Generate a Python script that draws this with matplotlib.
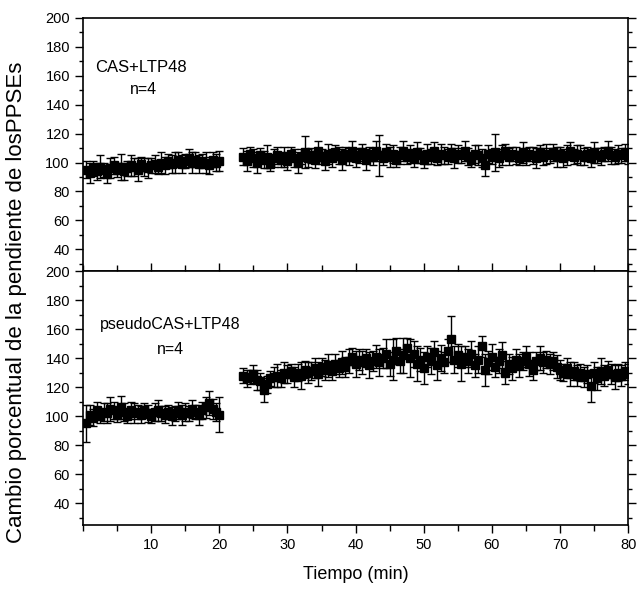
import numpy as np
import matplotlib
matplotlib.use('Agg')
import matplotlib.pyplot as plt
from matplotlib.ticker import MultipleLocator

plt.rcParams['font.family'] = ['Liberation Sans', 'DejaVu Sans']

# sampling times (min): baseline then post-induction
t_base = np.arange(0.5, 20.01, 0.5)
t_post = np.arange(23.5, 80.01, 0.5)

# CAS+LTP48
cas_base = [95, 93, 96, 94, 97, 95, 92, 96, 98, 95, 97, 94, 96, 98, 97, 95, 99, 97, 96, 98,
            99, 97, 100, 98, 101, 99, 100, 102, 99, 101, 103, 100, 102, 99, 101, 100, 98, 102, 100, 101]
cas_base_err = [6, 7, 5, 6, 8, 5, 6, 7, 6, 5, 9, 6, 5, 7, 6, 8, 5, 6, 7, 5,
                6, 5, 7, 6, 5, 6, 7, 5, 6, 5, 6, 7, 5, 6, 5, 7, 6, 5, 6, 7]
cas_post = [104, 101, 106, 103, 100, 105, 102, 104, 99, 103,
            105, 102, 104, 101, 106, 103, 100, 104, 107, 103,
            105, 102, 108, 104, 101, 106, 103, 107, 105, 102,
            106, 104, 108, 103, 105, 107, 102, 106, 104, 108,
            105, 103, 107, 104, 106, 102, 105, 108, 104, 106,
            103, 107, 105, 102, 106, 104, 108, 103, 106, 105,
            104, 107, 103, 106, 105, 108, 104, 102, 106, 105,
            103, 98, 106, 104, 107, 103, 105, 108, 104, 106,
            105, 103, 107, 104, 106, 105, 103, 107, 104, 106,
            105, 107, 104, 106, 103, 105, 108, 104, 106, 105,
            104, 106, 103, 107, 105, 104, 106, 108, 105, 104,
            106, 105, 107, 104]
cas_post_err = [6, 7, 5, 6, 7, 5, 6, 8, 5, 6,
                6, 5, 7, 6, 5, 6, 7, 5, 11, 6,
                5, 6, 7, 5, 6, 7, 6, 5, 6, 7,
                5, 6, 7, 6, 5, 6, 7, 5, 6, 7,
                14, 5, 6, 7, 6, 5, 6, 7, 5, 6,
                6, 7, 5, 6, 7, 5, 6, 5, 7, 6,
                5, 6, 7, 6, 5, 7, 6, 5, 6, 7,
                6, 7, 6, 5, 13, 6, 7, 5, 6, 5,
                6, 5, 7, 6, 5, 6, 7, 5, 6, 7,
                5, 6, 7, 5, 6, 7, 6, 5, 6, 7,
                6, 5, 6, 7, 5, 6, 5, 7, 6, 5,
                6, 5, 6, 5]

# pseudoCAS+LTP48
pse_base = [95, 101, 99, 104, 100, 103, 102, 105, 104, 101, 106, 103, 100, 104, 102, 103, 101, 104, 102, 100,
            103, 104, 102, 101, 103, 100, 102, 104, 101, 103, 102, 105, 103, 101, 104, 106, 109, 105, 103, 101]
pse_base_err = [13, 7, 6, 6, 5, 6, 7, 8, 6, 5, 8, 6, 5, 6, 7, 5, 6, 5, 6, 5,
                6, 7, 5, 6, 5, 6, 5, 6, 7, 6, 5, 6, 5, 7, 6, 7, 8, 7, 6, 12]
pse_post = [128, 126, 127, 129, 125, 124, 118, 122, 126, 127,
            128, 126, 130, 129, 131, 127, 130, 128, 132, 130,
            131, 133, 129, 134, 132, 135, 131, 136, 133, 137,
            134, 138, 141, 136, 139, 137, 140, 135, 138, 141,
            137, 140, 143, 136, 139, 145, 138, 142, 147, 140,
            143, 136, 139, 133, 141, 138, 144, 135, 140, 137,
            145, 153, 139, 142, 136, 141, 138, 143, 135, 139,
            148, 132, 137, 141, 134, 138, 142, 130, 136, 133,
            139, 135, 138, 141, 136, 132, 138, 140, 137, 139,
            136, 138, 134, 132, 130, 133, 129, 131, 128, 130,
            127, 129, 121, 130, 126, 131, 128, 132, 129, 127,
            130, 128, 131, 129]
pse_post_err = [5, 6, 5, 6, 7, 6, 8, 6, 5, 7,
                8, 6, 7, 6, 5, 7, 6, 9, 6, 7,
                6, 7, 8, 6, 7, 8, 6, 7, 6, 8,
                7, 8, 6, 9, 7, 8, 6, 9, 7, 8,
                9, 7, 10, 8, 14, 9, 8, 12, 7, 13,
                9, 12, 8, 11, 7, 9, 8, 10, 9, 7,
                8, 16, 9, 8, 12, 7, 8, 9, 8, 9,
                7, 11, 8, 9, 7, 8, 9, 8, 7, 8,
                7, 8, 6, 7, 8, 7, 6, 8, 7, 6,
                7, 6, 8, 7, 6, 7, 8, 6, 7, 6,
                7, 6, 11, 7, 8, 9, 7, 6, 7, 8,
                6, 7, 6, 7]

fig = plt.figure(figsize=(6.39, 5.95), dpi=100)
ax1 = fig.add_axes([0.130, 0.5445, 0.853, 0.4255])
ax2 = fig.add_axes([0.130, 0.1176, 0.853, 0.4269], sharex=ax1)

eb = dict(fmt='s', color='k', ms=6, elinewidth=1, capsize=3, capthick=1)

ax1.errorbar(t_base, cas_base, yerr=cas_base_err, **eb)
ax1.errorbar(t_post, cas_post, yerr=cas_post_err, **eb)
ax2.errorbar(t_base, pse_base, yerr=pse_base_err, **eb)
ax2.errorbar(t_post, pse_post, yerr=pse_post_err, **eb)

for ax in (ax1, ax2):
    ax.set_xlim(0, 80)
    ax.set_ylim(25, 200)
    ax.set_yticks([40, 60, 80, 100, 120, 140, 160, 180, 200])
    ax.yaxis.set_minor_locator(MultipleLocator(10))
    ax.xaxis.set_minor_locator(MultipleLocator(5))
    ax.tick_params(axis='y', which='major', direction='out', length=6, width=1,
                   right=True, labelsize=10.5)
    ax.tick_params(axis='y', which='minor', direction='out', length=3, width=1, right=True)
    for s in ax.spines.values():
        s.set_linewidth(1.2)

ax2.set_xticks([10, 20, 30, 40, 50, 60, 70, 80])
ax2.tick_params(axis='x', which='major', direction='out', length=6, width=1, labelsize=10.5)
ax2.tick_params(axis='x', which='minor', direction='out', length=4, width=1)
ax2.tick_params(axis='x', which='both', top=True)
ax1.tick_params(axis='x', which='both', bottom=False, labelbottom=False)

ax1.text(1.8, 165.5, 'CAS+LTP48', fontsize=12, va='center', ha='left')
ax1.text(8.8, 150.3, 'n=4', fontsize=11.5, va='center', ha='center')
ax2.text(2.5, 162.9, 'pseudoCAS+LTP48', fontsize=11.5, va='center', ha='left')
ax2.text(12.8, 145.7, 'n=4', fontsize=11.5, va='center', ha='center')

ax2.set_xlabel('Tiempo (min)', fontsize=13, labelpad=10)
fig.text(0.026, 0.492, 'Cambio porcentual de la pendiente de losPPSEs', fontsize=16,
         rotation=90, va='center', ha='center')

fig.savefig('out.png', dpi=100)
